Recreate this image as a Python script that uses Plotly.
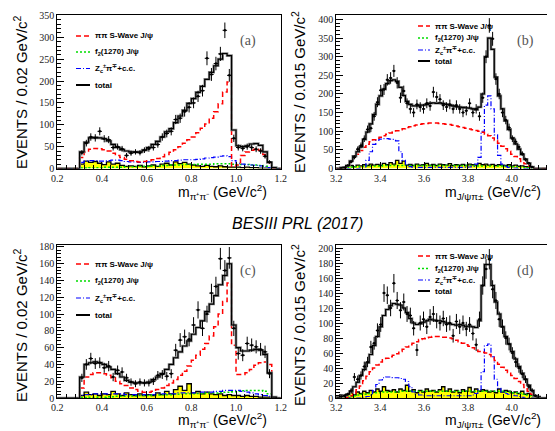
import numpy as np
import plotly.graph_objects as go

# ---------------- data: m(pi+pi-) panels, 0.02 GeV bins from 0.2 to 1.2 ----------------
pp_edges = np.round(0.2 + 0.02 * np.arange(51), 4)

a_total = [0, 0, 0, 0, 0, 38, 60, 70, 71, 70,
           68, 63, 55, 48, 43, 40, 38, 37, 38, 42,
           48, 55, 62, 72, 84, 91, 105, 120, 133, 149,
           160, 174, 188, 204, 220, 235, 250, 263, 258, 88,
           52, 50, 52, 56, 57, 53, 38, 14, 2, 0]
a_data = [0, 0, 0, 0, 0, 36, 58, 72, 70, 85,
          68, 66, 48, 50, 45, 30, 35, 38, 36, 42,
          45, 48, 55, 72, 80, 85, 112, 115, 130, 140,
          150, 165, 178, 252, 215, 240, 262, 316, 213, 69,
          48, 46, 50, 48, 44, 40, 28, 15, 0, 0]
a_swave = [0, 0, 0, 0, 0, 25, 38, 44, 46, 45,
           43, 40, 35, 30, 25, 21, 18, 16, 15, 16,
           18, 20, 23, 27, 32, 37, 43, 50, 58, 66,
           72, 82, 92, 102, 115, 130, 148, 175, 198, 5,
           8, 30, 38, 42, 44, 42, 32, 12, 0, 0]
a_f2 = [0, 0, 0, 0, 0, 1, 1, 2, 2, 2,
        3, 3, 3, 3, 3, 4, 4, 4, 5, 5,
        5, 6, 6, 7, 7, 8, 8, 8, 9, 9,
        9, 10, 10, 10, 10, 11, 11, 11, 11, 10,
        9, 9, 9, 8, 8, 7, 5, 2, 0, 0]
a_zc = [0, 0, 0, 0, 0, 14, 17, 18, 18, 17,
        17, 18, 19, 19, 18, 16, 15, 15, 14, 14,
        15, 15, 16, 16, 17, 18, 18, 19, 20, 20,
        20, 21, 22, 24, 25, 26, 28, 29, 27, 18,
        12, 10, 9, 8, 7, 6, 4, 2, 0, 0]
a_bkg = [0, 0, 0, 0, 0, 10, 17, 14, 16, 12,
         9, 15, 10, 12, 7, 5, 6, 5, 7, 4,
         6, 8, 5, 10, 12, 8, 15, 11, 14, 10,
         8, 6, 5, 7, 5, 4, 6, 4, 3, 3,
         3, 2, 3, 2, 2, 1, 1, 1, 0, 0]

c_total = [0, 0, 0, 0, 0, 25, 40, 42, 43, 42,
           40, 37, 34, 29, 25, 21, 19, 18, 18, 18,
           19, 22, 25, 29, 34, 40, 48, 55, 62, 68,
           76, 84, 92, 103, 112, 122, 135, 146, 160, 87,
           60, 56, 56, 57, 58, 57, 52, 30, 1, 0]
c_data = [0, 0, 0, 0, 0, 24, 40, 47, 41, 42,
          36, 38, 25, 33, 31, 24, 19, 17, 19, 18,
          18, 20, 27, 28, 26, 29, 57, 69, 73, 70,
          87, 105, 83, 100, 125, 133, 166, 152, 167, 83,
          53, 51, 65, 63, 61, 58, 55, 29, 0, 0]
c_swave = [0, 0, 0, 0, 0, 12, 25, 28, 30, 30,
           29, 27, 24, 20, 17, 15, 12, 10, 8, 7,
           7, 8, 10, 12, 15, 18, 22, 27, 32, 38,
           45, 51, 58, 65, 74, 85, 100, 115, 137, 63,
           28, 28, 30, 34, 39, 42, 43, 40, 1, 0]
c_f2 = [0, 0, 0, 0, 0, 0.5, 0.5, 1, 1, 1,
        1, 1.5, 1.5, 2, 2, 2, 2.5, 2.5, 3, 3,
        3, 3.5, 3.5, 4, 4, 4, 4.5, 4.5, 5, 5,
        5, 5.5, 5.5, 6, 6, 6, 6.5, 7, 7, 7.5,
        8, 8.5, 9, 9, 9, 9, 8, 5, 0, 0]
c_zc = [0, 0, 0, 0, 0, 3, 4, 4, 5, 5,
        5, 5, 5, 5, 5, 4, 4, 4, 4, 4,
        4, 4, 5, 5, 5, 5, 5, 6, 6, 6,
        6, 6, 7, 7, 7, 8, 8, 9, 9, 9,
        9, 8, 7, 6, 5, 4, 3, 2, 0, 0]
c_bkg = [0, 0, 0, 0, 0, 3, 7, 4, 5, 3,
         5, 4, 8, 5, 3, 6, 4, 3, 5, 3,
         4, 3, 6, 4, 8, 5, 10, 14, 9, 17,
         6, 8, 5, 7, 5, 4, 5, 3, 4, 3,
         3, 2, 3, 2, 2, 1, 1, 1, 0, 0]

# ---------------- data: m(J/psi pi) panels, 0.015 GeV bins from 3.2 ----------------
jp_edges = np.round(3.2 + 0.015 * np.arange(68), 4)

b_total = [0, 1, 3, 8, 20, 33, 45, 58, 78, 98,
           120, 145, 172, 195, 213, 228, 236, 238, 234, 218,
           196, 180, 172, 168, 168, 170, 170, 172, 175, 176,
           175, 176, 174, 172, 170, 168, 166, 165, 164, 163,
           162, 160, 158, 165, 200, 300, 350, 320, 245, 195,
           160, 128, 105, 82, 66, 52, 38, 25, 14, 4,
           0, 0, 0, 0, 0, 0, 0]
b_data = [0, 1, 2, 8, 18, 30, 52, 62, 80, 105,
          108, 140, 178, 210, 212, 238, 243, 262, 230, 190,
          208, 175, 160, 150, 172, 165, 160, 175, 168, 205,
          192, 186, 170, 165, 172, 160, 170, 160, 150, 155,
          175, 150, 160, 140, 190, 300, 384, 348, 240, 200,
          150, 130, 110, 80, 72, 58, 40, 24, 14, 4,
          0, 0, 0, 0, 0, 0, 0]
b_swave = [0, 0, 1, 7, 17, 28, 38, 48, 57, 65,
           72, 77, 81, 84, 88, 92, 95, 98, 101, 104,
           107, 110, 112, 115, 117, 119, 120, 121, 122, 122,
           122, 121, 120, 119, 118, 116, 114, 112, 110, 108,
           106, 104, 102, 100, 97, 92, 88, 82, 75, 68,
           60, 53, 46, 38, 32, 26, 19, 13, 7, 2,
           0, 0, 0, 0, 0, 0, 0]
b_zc = [0, 0, 0, 0, 0, 0, 0, 1, 4, 22,
        45, 65, 76, 79, 80, 80, 79, 78, 74, 45,
        22, 10, 5, 3, 3, 3, 3, 3, 3, 3,
        3, 3, 3, 3, 3, 3, 3, 3, 3, 3,
        4, 6, 12, 30, 100, 170, 195, 160, 90, 35,
        12, 5, 3, 2, 1, 0, 0, 0, 0, 0,
        0, 0, 0, 0, 0, 0, 0]
b_f2 = [0, 1, 2, 3, 4, 5, 5, 6, 6, 7,
        7, 7, 7, 7, 8, 8, 8, 8, 8, 8,
        8, 8, 8, 8, 8, 8, 8, 8, 8, 8,
        8, 8, 8, 8, 8, 8, 8, 8, 8, 8,
        8, 8, 7, 7, 7, 7, 7, 7, 7, 7,
        7, 6, 6, 5, 5, 4, 3, 2, 2, 1,
        0, 0, 0, 0, 0, 0, 0]
b_bkg = [2, 3, 5, 6, 8, 5, 9, 7, 10, 8,
         12, 9, 11, 8, 14, 10, 16, 12, 22, 14,
         20, 9, 11, 8, 12, 9, 10, 14, 9, 11,
         8, 12, 10, 9, 13, 8, 10, 9, 11, 8,
         12, 10, 9, 14, 10, 12, 9, 11, 8, 10,
         9, 8, 10, 7, 9, 6, 7, 5, 4, 3,
         0, 0, 0, 0, 0, 0, 0]

d_total = [1, 2, 3, 5, 9, 15, 21, 30, 38, 47,
           58, 70, 82, 95, 110, 118, 123, 126, 125, 124,
           120, 114, 106, 100, 98, 99, 101, 103, 105, 104,
           103, 103, 102, 100, 99, 98, 97, 98, 97, 95,
           96, 95, 94, 103, 150, 178, 178, 150, 128, 112,
           95, 82, 72, 62, 52, 42, 33, 25, 17, 10,
           3, 0, 0, 0, 0, 0, 0]
d_data = [0, 2, 3, 5, 10, 28, 25, 30, 42, 48,
          68, 73, 90, 98, 140, 137, 120, 153, 130, 117,
          128, 112, 110, 93, 64, 100, 105, 95, 108, 112,
          103, 100, 106, 98, 100, 83, 102, 95, 100, 92,
          98, 86, 71, 105, 150, 172, 185, 145, 130, 105,
          95, 80, 72, 60, 48, 40, 32, 25, 15, 10,
          3, 0, 0, 0, 0, 0, 0]
d_swave = [0, 0, 0, 1, 3, 7, 11, 16, 23, 29,
           35, 40, 44, 48, 51, 53, 55, 57, 59, 62,
           65, 68, 71, 73, 75, 78, 79, 80, 81, 82,
           82, 82, 81, 81, 80, 79, 77, 75, 73, 71,
           69, 67, 64, 62, 61, 60, 58, 54, 50, 45,
           41, 37, 34, 30, 26, 22, 18, 14, 9, 5,
           2, 0, 0, 0, 0, 0, 0]
d_zc = [0, 0, 0, 0, 0, 0, 0, 0, 1, 2,
        4, 10, 18, 24, 27, 28, 28, 27, 27, 26,
        25, 22, 15, 8, 5, 4, 3, 3, 3, 3,
        3, 3, 3, 3, 3, 3, 3, 3, 3, 3,
        3, 4, 6, 11, 35, 70, 72, 55, 25, 13,
        8, 6, 5, 4, 3, 2, 1, 0, 0, 0,
        0, 0, 0, 0, 0, 0, 0]
d_f2 = [0, 0, 1, 1, 2, 3, 4, 5, 5, 6,
        6, 7, 7, 7, 8, 8, 8, 8, 8, 9,
        9, 9, 9, 9, 9, 9, 9, 9, 9, 9,
        9, 9, 9, 9, 9, 9, 9, 9, 9, 9,
        9, 9, 9, 9, 9, 9, 9, 9, 9, 9,
        9, 8, 8, 7, 7, 6, 5, 4, 3, 2,
        1, 0, 0, 0, 0, 0, 0]
d_bkg = [2, 4, 3, 5, 7, 4, 8, 6, 9, 7,
         10, 8, 12, 9, 15, 10, 9, 11, 8, 12,
         10, 17, 9, 11, 7, 10, 8, 12, 9, 10,
         8, 11, 15, 9, 12, 8, 10, 7, 11, 9,
         14, 8, 12, 9, 11, 10, 8, 9, 7, 12,
         8, 10, 9, 7, 8, 6, 9, 5, 6, 4,
         3, 2, 0, 0, 0, 0, 0]

legend_labels = ["ππ S-Wave J/ψ", "f<sub>2</sub>(1270) J/ψ",
                 "Z<sub>c</sub><sup>±</sup>π<sup>∓</sup>+c.c.", "total"]
panel_tags = ["(a)", "(b)", "(c)", "(d)"]
xtitle_pp = "m<sub>π⁺π⁻</sub> (GeV/c<sup>2</sup>)"
xtitle_jp = "m<sub>J/ψπ±</sub> (GeV/c<sup>2</sup>)"
ytitle_pp = "EVENTS / 0.02 GeV/c<sup>2</sup>"
ytitle_jp = "EVENTS / 0.015 GeV/c<sup>2</sup>"
main_title = "BESIII PRL (2017)"

# ---------------- layout helpers ----------------
W, H = 555, 431
def PX(p):
    return p / W
def PY(p):
    return 1 - p / H

RED = "#ff0000"
GREEN = "#00dd00"
BLUE = "#0000ff"
YELLOW = "#ffff00"

DASH_RED = "5px,3px"
DASH_GREEN = "2px,2px"
DASH_BLUE = "5px,2px,1px,2px"

fig = go.Figure()

def add_step(edges, vals, xa, ya, color, width, dash=None, fill=False):
    x = list(edges)
    y = list(vals) + [vals[-1]]
    kw = dict(x=x, y=y, mode="lines", line_shape="hv", xaxis=xa, yaxis=ya,
              showlegend=False, hoverinfo="skip",
              line=dict(color=color, width=width, dash=dash))
    if fill:
        kw["fill"] = "tozeroy"
        kw["fillcolor"] = YELLOW
    fig.add_trace(go.Scatter(**kw))

def add_panel(edges, total, data, swave, f2, zc, bkg, xa, ya):
    add_step(edges, bkg, xa, ya, "black", 1.3, fill=True)
    add_step(edges, f2, xa, ya, GREEN, 1.5, dash=DASH_GREEN)
    add_step(edges, zc, xa, ya, BLUE, 1.2, dash=DASH_BLUE)
    add_step(edges, swave, xa, ya, RED, 1.5, dash=DASH_RED)
    add_step(edges, total, xa, ya, "#8a8a8a", 2.6)
    add_step(edges, total, xa, ya, "black", 1.2)
    centers = (np.array(edges[:-1]) + np.array(edges[1:])) / 2
    d = np.array(data, dtype=float)
    m = d > 0
    half = (edges[1] - edges[0]) / 2
    fig.add_trace(go.Scatter(
        x=centers[m], y=d[m], mode="markers", xaxis=xa, yaxis=ya,
        showlegend=False, hoverinfo="skip",
        marker=dict(color="black", size=2.5),
        error_y=dict(type="data", array=np.sqrt(d[m]), color="black", thickness=1, width=0),
        error_x=dict(type="constant", value=half, color="black", thickness=1, width=0)))

add_panel(pp_edges, a_total, a_data, a_swave, a_f2, a_zc, a_bkg, "x", "y")
add_panel(jp_edges, b_total, b_data, b_swave, b_f2, b_zc, b_bkg, "x2", "y2")
add_panel(pp_edges, c_total, c_data, c_swave, c_f2, c_zc, c_bkg, "x3", "y3")
add_panel(jp_edges, d_total, d_data, d_swave, d_f2, d_zc, d_bkg, "x4", "y4")

tickfont = dict(family="Liberation Serif", size=10, color="#222")
def axis(rng, dtick, minor, domain, anchor, fmt=None):
    a = dict(range=rng, dtick=dtick, tick0=rng[0], domain=domain, anchor=anchor,
             showline=True, linecolor="black", linewidth=1, mirror=True,
             ticks="inside", ticklen=7, tickwidth=1, tickcolor="black",
             showgrid=False, zeroline=False, tickfont=tickfont, automargin=False,
             minor=dict(dtick=minor, ticks="inside", ticklen=4, tickcolor="black", tickwidth=1))
    if fmt:
        a["tickformat"] = fmt
    return a

xdom_L = [PX(49.3), PX(272.7)]
xdom_R = [PX(328.3), PX(547.7)]
ydom_T = [PY(160.5), PY(7)]
ydom_B = [PY(390), PY(237.3)]

fig.update_layout(
    width=W, height=H, margin=dict(l=0, r=0, t=0, b=0),
    paper_bgcolor="white", plot_bgcolor="white", showlegend=False,
    xaxis=axis([0.2, 1.2], 0.2, 0.04, xdom_L, "y", ".1f"),
    yaxis=axis([0, 351], 50, 10, ydom_T, "x"),
    xaxis2=axis([3.2, 4.2], 0.2, 0.04, xdom_R, "y2", ".1f"),
    yaxis2=axis([0, 412], 50, 10, ydom_T, "x2"),
    xaxis3=axis([0.2, 1.2], 0.2, 0.04, xdom_L, "y3", ".1f"),
    yaxis3=axis([0, 182], 20, 4, ydom_B, "x3"),
    xaxis4=axis([3.2, 4.2], 0.2, 0.04, xdom_R, "y4", ".1f"),
    yaxis4=axis([0, 203.6], 20, 4, ydom_B, "x4"),
)

annotations = []
shapes = []
sans = "Liberation Sans"

def text(x, y, s, size, xanchor="center", yanchor="middle", angle=0, family=sans, color="black"):
    annotations.append(dict(x=PX(x), y=PY(y), xref="paper", yref="paper", text=s,
                            showarrow=False, xanchor=xanchor, yanchor=yanchor,
                            textangle=angle, font=dict(family=family, size=size, color=color)))

# axis titles
text(214, 184, xtitle_pp, 14)
text(485, 184, xtitle_jp, 14)
text(214, 412, xtitle_pp, 14)
text(485, 412, xtitle_jp, 14)
text(12, 84, ytitle_pp, 15, angle=-90)
text(290, 84, ytitle_jp, 15, angle=-90)
text(12, 317, ytitle_pp, 15, angle=-90)
text(290, 317, ytitle_jp, 15, angle=-90)
text(289, 215, "<i>" + main_title + "</i>", 16)

# panel tags
for (px, py), tag in zip([(240, 33), (517, 33), (240, 263), (517, 263)], panel_tags):
    text(px, py, tag, 14, family="Liberation Serif", color="#555")

# legends
styles = [(RED, DASH_RED, 1.5), (GREEN, DASH_GREEN, 1.5), (BLUE, DASH_BLUE, 1.2), ("black", None, 2)]
legend_spec = [
    (68, 82, 85, [28, 44, 60.5, 77]),
    (410, 422, 425, [18, 30, 42, 53]),
    (68, 82, 85, [256, 273, 290, 307]),
    (410, 422, 425, [248, 260.5, 272, 283]),
]
for x0, x1, xt, rows in legend_spec:
    for (col, dash, w), lab, ry in zip(styles, legend_labels, rows):
        shapes.append(dict(type="line", xref="paper", yref="paper",
                           x0=PX(x0), x1=PX(x1), y0=PY(ry), y1=PY(ry),
                           line=dict(color=col, width=w, dash=dash)))
        text(xt, ry, "<b>" + lab + "</b>", 8, xanchor="left")

fig.update_layout(annotations=annotations, shapes=shapes)
fig.write_html("out.html")
